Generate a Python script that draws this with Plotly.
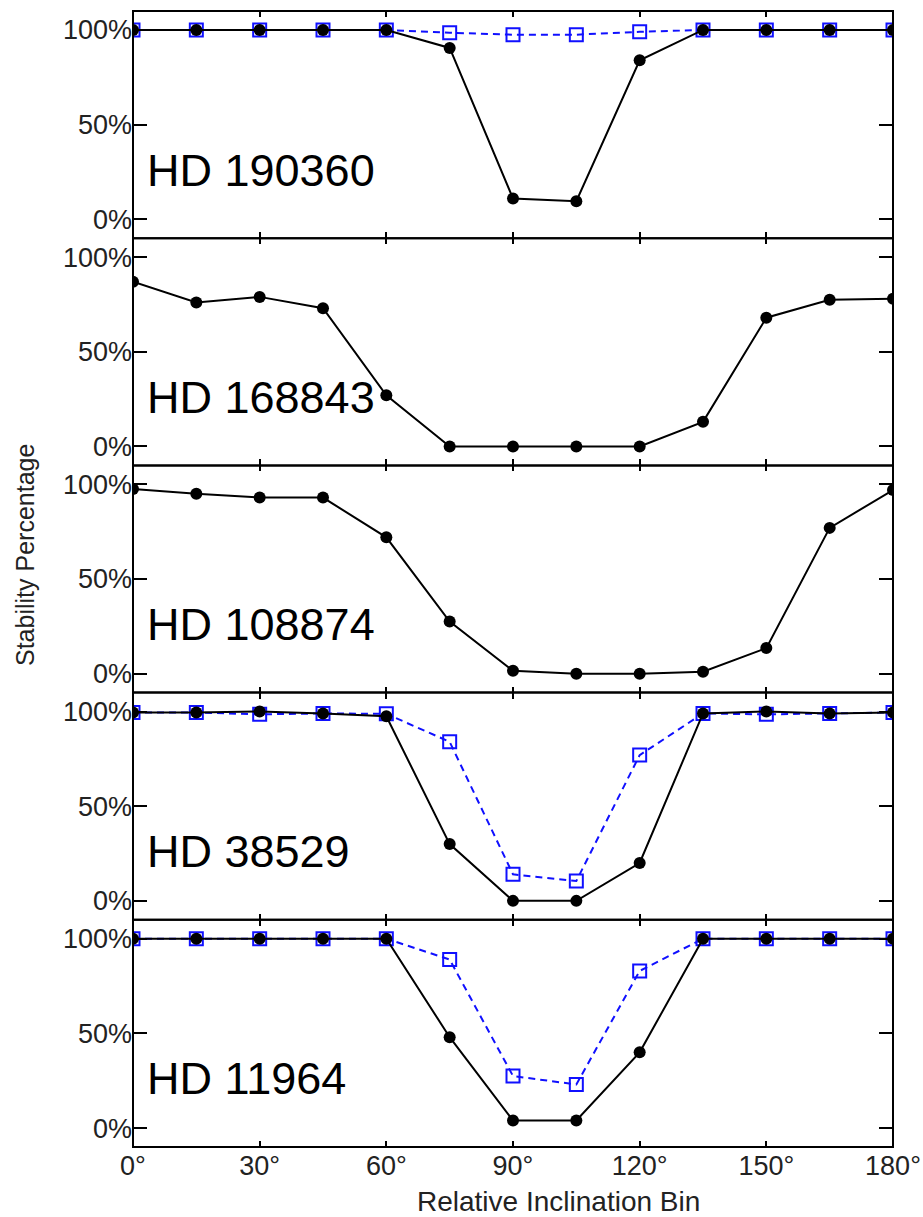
import plotly.graph_objects as go
from plotly.subplots import make_subplots

inclination = [0, 15, 30, 45, 60, 75, 90, 105, 120, 135, 150, 165, 180]
x_tick_vals = [0, 30, 60, 90, 120, 150, 180]
x_tick_text = ["0°", "30°", "60°", "90°", "120°", "150°", "180°"]
y_tick_vals = [0, 50, 100]
y_tick_text = ["0%", "50%", "100%"]

systems = ["HD 190360", "HD 168843", "HD 108874", "HD 38529", "HD 11964"]

hd190360_black = [100, 100, 100, 100, 100, 90.5, 11, 9.5, 84, 100, 100, 100, 100]
hd190360_blue = [100, 100, 100, 100, 100, 98.5, 97.5, 97.5, 99, 100, 100, 100, 100]
hd168843_black = [87, 76, 79, 73, 27, 0, 0, 0, 0, 13, 68, 77.5, 78]
hd108874_black = [97.5, 95, 93, 93, 72, 27.5, 1.5, 0, 0, 1, 13.5, 77, 97]
hd38529_black = [99.5, 99.5, 100, 99, 97.5, 30, 0, 0, 20, 99, 100, 99, 99.5]
hd38529_blue = [99.5, 99.5, 98.5, 99, 98.8, 84, 14, 10.5, 77, 99, 98.5, 99, 99.5]
hd11964_black = [100, 100, 100, 100, 100, 48, 4, 4, 40, 100, 100, 100, 100]
hd11964_blue = [100, 100, 100, 100, 100, 89, 27.5, 23, 83, 100, 100, 100, 100]

black_series = [hd190360_black, hd168843_black, hd108874_black, hd38529_black, hd11964_black]
blue_series = [hd190360_blue, None, None, hd38529_blue, hd11964_blue]

FONT = "Liberation Sans, Arial, sans-serif"

fig = make_subplots(rows=5, cols=1, shared_xaxes=True, vertical_spacing=0)

for i in range(5):
    r = i + 1
    if blue_series[i] is not None:
        fig.add_trace(go.Scatter(
            x=inclination, y=blue_series[i], mode="lines+markers",
            line=dict(color="#1010ff", width=2, dash="7px,5px"),
            marker=dict(symbol="square-open", size=13, color="#1010ff",
                        line=dict(width=2, color="#1010ff")),
            showlegend=False), row=r, col=1)
    fig.add_trace(go.Scatter(
        x=inclination, y=black_series[i], mode="lines+markers",
        line=dict(color="black", width=2),
        marker=dict(symbol="circle", size=12, color="black"),
        showlegend=False), row=r, col=1)
    fig.update_yaxes(range=[-10, 110], tickvals=y_tick_vals, ticktext=y_tick_text,
                     ticks="inside", ticklen=14, tickwidth=2, tickcolor="black",
                     showline=False, mirror="ticks",
                     showgrid=False, zeroline=False, automargin=False,
                     tickfont=dict(family=FONT, size=27, color="#222"),
                     row=r, col=1)
    fig.update_xaxes(range=[0, 180], tickvals=x_tick_vals, ticktext=x_tick_text,
                     ticks="inside", ticklen=6, tickwidth=2, tickcolor="black",
                     showline=False, mirror="ticks",
                     showgrid=False, zeroline=False, automargin=False,
                     showticklabels=(r == 5),
                     tickfont=dict(family=FONT, size=27, color="#222"),
                     row=r, col=1)
    xs = "x" if r == 1 else f"x{r}"
    ys = "y" if r == 1 else f"y{r}"
    fig.add_shape(type="rect", xref=f"{xs} domain", yref=f"{ys} domain",
                  x0=0, x1=1, y0=0, y1=1, line=dict(color="black", width=2),
                  fillcolor="rgba(0,0,0,0)", layer="above")
    fig.add_annotation(x=0.016, xref="paper", y=26, yref=ys,
                       text=systems[i], showarrow=False, xanchor="left", yanchor="middle",
                       font=dict(family=FONT, size=45, color="black"))

W, H = 923, 1217
ml, mr, mt, mb = 133, 30, 11, 70
fig.add_annotation(x=(ml + (W - mr)) / 2 / W + 0.004, xref="paper",
                   y=-(1201.7 - (H - mb)) / (H - mt - mb), yref="paper",
                   text="Relative Inclination Bin", showarrow=False,
                   xanchor="center", yanchor="middle",
                   font=dict(family=FONT, size=28, color="#222"))
fig.add_annotation(x=-(ml - 25) / (W - ml - mr), xref="paper",
                   y=1 - (555 - mt) / (H - mt - mb), yref="paper",
                   text="Stability Percentage", showarrow=False, textangle=-90,
                   xanchor="center", yanchor="middle",
                   font=dict(family=FONT, size=25, color="#222"))

fig.update_layout(width=W, height=H,
                  margin=dict(l=ml, r=mr, t=mt, b=mb, autoexpand=False),
                  plot_bgcolor="white", paper_bgcolor="white",
                  font=dict(family=FONT))
fig.write_html("out.html")
